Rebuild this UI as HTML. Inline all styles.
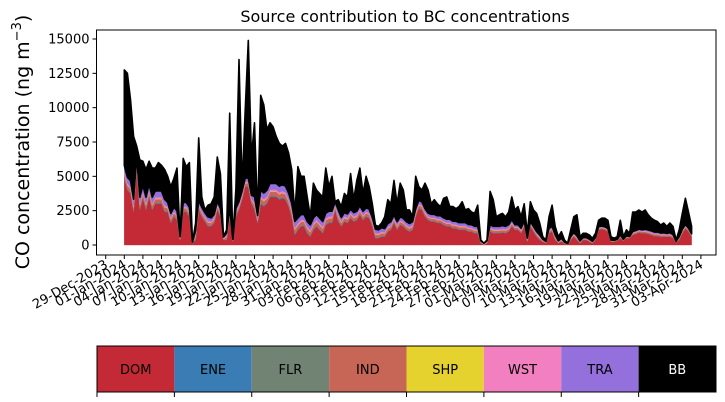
<!DOCTYPE html>
<html><head><meta charset="utf-8"><style>
html,body{margin:0;padding:0;background:#fff;}
svg{display:block;font-family:"DejaVu Sans","Liberation Sans",sans-serif;}
</style></head><body>
<svg id="chart" width="725" height="402" viewBox="0 0 725 402">
<text x="405" y="22" text-anchor="middle" font-size="16">Source contribution to BC concentrations</text>
<text transform="translate(29,142) rotate(-90)" text-anchor="middle" font-size="19">CO concentration (ng m<tspan dy="-8" font-size="13">−3</tspan><tspan dy="8">)</tspan></text>
<g id="plot"></g>
<g id="legend"></g>
</svg>
<script>
const tickLabels=["29-Dec-2023","01-Jan-2024","04-Jan-2024","07-Jan-2024","10-Jan-2024","13-Jan-2024","16-Jan-2024","19-Jan-2024","22-Jan-2024","25-Jan-2024","28-Jan-2024","31-Jan-2024","03-Feb-2024","06-Feb-2024","09-Feb-2024","12-Feb-2024","15-Feb-2024","18-Feb-2024","21-Feb-2024","24-Feb-2024","27-Feb-2024","01-Mar-2024","04-Mar-2024","07-Mar-2024","10-Mar-2024","13-Mar-2024","16-Mar-2024","19-Mar-2024","22-Mar-2024","25-Mar-2024","28-Mar-2024","31-Mar-2024","03-Apr-2024"];
const yTicks=[0,2500,5000,7500,10000,12500,15000];
const sources=["DOM","ENE","FLR","IND","SHP","WST","TRA","BB"];
const colors=["#c42a36","#3a7db4","#718373","#c76556","#e6d22f","#f27fbf","#9370db","#000000"];
// total concentration, half-day steps from 01-Jan-2024
const total=[12750,12500,10600,7900,7200,6200,6100,5500,6100,5600,5600,6000,5800,5500,5000,4250,4850,5600,600,6300,5700,6000,100,1600,7800,3500,2550,2900,3000,3500,6400,5200,600,1100,9600,360,4100,13500,4250,9800,14900,6400,8900,2050,10900,10200,8400,8900,8600,7900,7400,7200,7400,6700,5500,2300,5700,5000,5000,3500,2050,4500,4000,3750,3500,5600,4250,5000,3150,3300,2800,3750,3500,5200,3300,4700,5600,3750,5000,4250,3000,1450,1350,1600,2050,3300,3000,4700,3000,4500,4000,2550,2550,
2050,5000,4250,4000,4500,4000,3000,3300,3000,2800,3400,3500,2800,2800,2650,2800,3150,2550,2650,2400,2300,2900,360,120,360,3900,3300,2050,2200,2300,2050,2400,3500,2550,2800,2050,3000,850,3150,2550,2300,1600,600,360,2050,2900,1350,600,970,360,120,1100,2050,2200,600,850,850,730,490,850,1800,1950,1950,1800,600,490,600,1800,600,1100,850,2400,2400,2550,2400,2550,2200,1950,1800,1700,1450,1600,1350,1600,1350,360,1100,2300,3400,2400,1350];
const dom=[4850,4000,3750,2400,5500,2550,3400,2550,3500,2550,3000,3000,3000,2400,2400,1600,2050,1800,360,2400,2400,2050,120,360,2550,2050,1700,1350,1350,1600,2550,2050,360,360,2050,240,2050,2550,3300,4250,4250,3000,2550,1600,3000,2800,3000,3500,3500,3500,3300,3400,3300,2800,2050,730,1100,1350,1350,850,600,1100,1350,1100,850,1450,1600,1600,2550,1700,1350,1700,1600,1950,1700,1800,2200,1800,2050,1950,1350,490,490,600,600,970,1100,1600,1100,1450,1350,1100,970,
1100,2050,2650,2550,2050,1800,1700,1700,1600,1600,1450,1350,1350,1200,1200,1100,1100,1100,970,970,850,850,120,0,120,970,850,850,850,900,850,970,1350,1100,1100,850,1350,240,1350,970,600,360,240,120,850,970,360,120,240,70,50,360,600,360,120,360,360,240,120,360,1100,1150,1100,970,240,240,300,490,300,490,490,730,800,900,850,850,800,730,650,650,600,600,600,600,490,170,360,850,1200,970,600];
// minor sources, weekly means
const ene=[40,40,35,45,40,30,30,25,25,20,20,15,15,15];
const flr=[50,40,40,55,50,40,35,30,30,25,25,20,20,20];
const ind=[250,200,180,280,250,190,170,150,140,110,90,80,90,80];
const shp=[25,20,20,25,25,20,20,15,15,10,10,10,10,10];
const wst=[120,100,90,130,120,100,90,80,80,60,50,40,50,40];
const tra=[450,300,260,450,380,280,250,230,220,150,110,90,110,90];

const NS="http://www.w3.org/2000/svg";
const L=96.5,R=716,T=30,B=255;
const y0=245,pxPer=(245-39)/15000;
function yS(v){return y0-v*pxPer;}
function xDay(d){return 105.7+d*6.2;}
function xIdx(i){return xDay(3+i*0.5);}
function mk(tag,attrs,parent){const e=document.createElementNS(NS,tag);for(const k in attrs)e.setAttribute(k,attrs[k]);parent.appendChild(e);return e;}
const plot=document.getElementById('plot');
const n=total.length;
const layers=[[],[],[],[],[],[],[],[]];
for(let i=0;i<n;i++){
  const w=Math.min(13,Math.floor(i/14));
  const d=dom[i];
  const f=Math.min(1,(total[i]-d)/1100+0.15);
  const m=[ene[w]*f,flr[w]*f,ind[w]*f,shp[w]*f,wst[w]*f,tra[w]*f];
  let s=d+m.reduce((a,b)=>a+b,0);
  layers[0].push(d);
  for(let k=0;k<6;k++)layers[k+1].push(m[k]);
  layers[7].push(Math.max(0,total[i]-s));
}
let base=new Array(n).fill(0);
for(let k=0;k<8;k++){
  const top=base.map((b,i)=>b+layers[k][i]);
  let dStr="";
  for(let i=0;i<n;i++)dStr+=(i?"L":"M")+xIdx(i).toFixed(2)+","+yS(top[i]).toFixed(2);
  for(let i=n-1;i>=0;i--)dStr+="L"+xIdx(i).toFixed(2)+","+yS(base[i]).toFixed(2);
  dStr+="Z";
  const p=mk('path',{d:dStr,fill:colors[k],stroke:colors[k],'stroke-width':k==7?1.6:0.4,'stroke-linejoin':'round'},plot);
  
  
  base=top;
}
const fr=mk('rect',{x:L,y:T,width:R-L,height:B-T,fill:'none',stroke:'#000','stroke-width':1},plot);


yTicks.forEach(v=>{
  const y=yS(v);
  mk('line',{x1:L-4,x2:L,y1:y,y2:y,stroke:'#000','stroke-width':1},plot);
  const t=mk('text',{x:L-7,y:y+4.5,'text-anchor':'end','font-size':13},plot);
  t.textContent=v;
  
  
});
tickLabels.forEach((lab,j)=>{
  const x=xDay(j*3);
  mk('line',{x1:x,x2:x,y1:B,y2:B+4,stroke:'#000','stroke-width':1},plot);
  const t=mk('text',{x:0,y:0,'text-anchor':'end','font-size':13,transform:`translate(${x+3},${B+12}) rotate(-30)`},plot);
  t.textContent=lab;
  
  
});
const lg=document.getElementById('legend');
const lx=97,lw=(716-97)/8,ly=346,lh=46;
sources.forEach((s,k)=>{
  const x=lx+k*lw;
  const r=mk('rect',{x:x,y:ly,width:lw,height:lh,fill:colors[k]},lg);
  
  
  const t=mk('text',{x:x+lw/2,y:ly+lh/2+5,'text-anchor':'middle','font-size':13,fill:k==7?'#fff':'#000'},lg);
  t.textContent=s;
  
  
  mk('line',{x1:x,x2:x,y1:ly+lh,y2:ly+lh+5,stroke:'#000','stroke-width':1},lg);
});
mk('rect',{x:lx,y:ly,width:716-lx,height:lh,fill:'none',stroke:'#000','stroke-width':1},lg);
</script>
</body></html>
